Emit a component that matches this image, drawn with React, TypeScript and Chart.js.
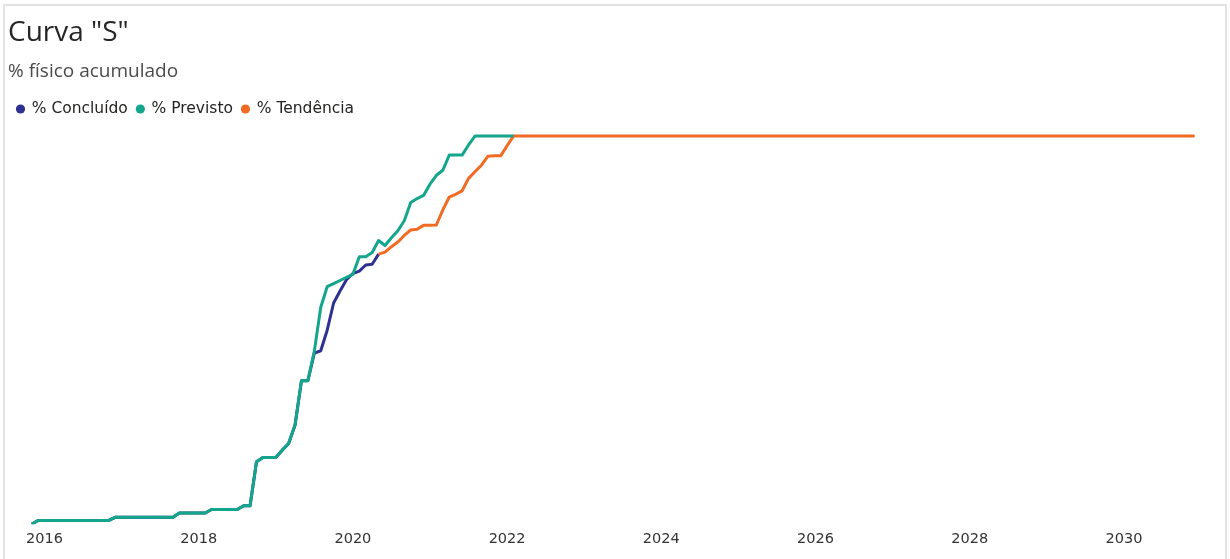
import React, { useEffect, useRef } from "react";
import { Chart, registerables } from "chart.js";

Chart.register(...registerables);

const TITLE = 'Curva "S"';
const SUBTITLE = "% físico acumulado";
const seriesNames = ["% Concluído", "% Previsto", "% Tendência"];
const seriesColors = ["#2E3192", "#13A68C", "#F26B23"];
const tickYears = [2016, 2018, 2020, 2022, 2024, 2026, 2028, 2030];

// [month, % accumulated]
const concluido: [string, number][] = [
  ["2015-11", 0], ["2015-12", 1.0], ["2016-11", 1.0], ["2016-12", 1.8],
  ["2017-09", 1.8], ["2017-10", 2.9], ["2018-02", 2.9], ["2018-03", 3.8],
  ["2018-07", 3.8], ["2018-08", 4.8], ["2018-09", 4.8], ["2018-10", 16.1],
  ["2018-11", 17.2], ["2018-12", 17.2], ["2019-01", 17.2], ["2019-02", 19.1],
  ["2019-03", 20.8], ["2019-04", 25.6], ["2019-05", 37.0], ["2019-06", 37.0],
  ["2019-07", 44.1], ["2019-08", 44.7], ["2019-09", 50.0], ["2019-10", 57.0],
  ["2019-11", 60.1], ["2019-12", 63.0], ["2020-01", 64.6], ["2020-02", 65.2],
  ["2020-03", 66.8], ["2020-04", 67.0], ["2020-05", 69.6],
];

const previsto: [string, number][] = [
  ["2015-11", 0], ["2015-12", 1.0], ["2016-11", 1.0], ["2016-12", 1.8],
  ["2017-09", 1.8], ["2017-10", 2.9], ["2018-02", 2.9], ["2018-03", 3.8],
  ["2018-07", 3.8], ["2018-08", 4.8], ["2018-09", 4.8], ["2018-10", 16.1],
  ["2018-11", 17.2], ["2018-12", 17.2], ["2019-01", 17.2], ["2019-02", 19.1],
  ["2019-03", 20.8], ["2019-04", 25.6], ["2019-05", 37.0], ["2019-06", 37.0],
  ["2019-07", 44.6], ["2019-08", 55.9], ["2019-09", 61.2], ["2019-10", 62.0],
  ["2019-11", 62.8], ["2019-12", 63.6], ["2020-01", 64.4], ["2020-02", 68.9],
  ["2020-03", 68.9], ["2020-04", 70.0], ["2020-05", 73.1], ["2020-06", 71.8],
  ["2020-07", 73.8], ["2020-08", 75.6], ["2020-09", 78.2], ["2020-10", 82.9],
  ["2020-11", 83.9], ["2020-12", 84.7], ["2021-01", 87.6], ["2021-02", 89.9],
  ["2021-03", 91.2], ["2021-04", 95.1], ["2021-05", 95.1], ["2021-06", 95.1],
  ["2021-07", 97.7], ["2021-08", 100], ["2021-09", 100], ["2021-10", 100],
  ["2021-11", 100], ["2021-12", 100], ["2022-01", 100], ["2022-02", 100],
];

const tendencia: [string, number][] = [
  ["2020-05", 69.6], ["2020-06", 70.1], ["2020-07", 71.5], ["2020-08", 72.7],
  ["2020-09", 74.4], ["2020-10", 75.8], ["2020-11", 76.0], ["2020-12", 77.0],
  ["2021-01", 77.0], ["2021-02", 77.1], ["2021-03", 81.0], ["2021-04", 84.3],
  ["2021-05", 85.0], ["2021-06", 85.9], ["2021-07", 89.1], ["2021-08", 90.8],
  ["2021-09", 92.5], ["2021-10", 94.8], ["2021-11", 94.9], ["2021-12", 94.9],
  ["2022-01", 97.5], ["2022-02", 100], ["2030-12", 100],
];

const X_MIN = 2015.527;
const X_MAX = 2031.272;
const Y_MAX = 102.4;

const toYear = (m: string) => {
  const [y, mo] = m.split("-").map(Number);
  return y + (mo - 1) / 12;
};
const toPoints = (s: [string, number][]) => s.map(([m, v]) => ({ x: toYear(m), y: v }));

export default function App() {
  const ref = useRef<HTMLCanvasElement>(null);

  useEffect(() => {
    document.body.style.margin = "0";
    document.body.style.overflow = "hidden";
    if (!ref.current) return;
    const series = [concluido, previsto, tendencia];
    const orders = [1, 0, 0];
    const chart = new Chart(ref.current, {
      type: "line",
      data: {
        datasets: series.map((s, i) => ({
          label: seriesNames[i],
          data: toPoints(s),
          borderColor: seriesColors[i],
          backgroundColor: seriesColors[i],
          borderWidth: 3,
          pointRadius: 0,
          tension: 0,
          borderJoinStyle: "round" as const,
          order: orders[i],
        })),
      },
      options: {
        animation: false,
        responsive: true,
        maintainAspectRatio: false,
        layout: { padding: { top: 6, left: 8, right: 8, bottom: 5.3 } },
        plugins: {
          title: {
            display: true,
            text: TITLE,
            align: "start",
            color: "#262626",
            font: { family: "'Open Sans'", size: 28, weight: "normal" },
            padding: { top: 10, bottom: 0 },
          },
          subtitle: {
            display: true,
            text: SUBTITLE,
            align: "start",
            color: "#4a4a4a",
            font: { family: "'Open Sans'", size: 19, weight: "normal" },
            padding: { top: 11, bottom: 8.85 },
          },
          legend: {
            display: true,
            position: "top",
            align: "start",
            labels: {
              usePointStyle: true,
              pointStyle: "circle",
              boxWidth: 7,
              boxHeight: 6.5,
              padding: 9,
              color: "#252423",
              font: { family: "'DejaVu Sans'", size: 15.5 },
              generateLabels: (c: any) =>
                Chart.defaults.plugins.legend.labels
                  .generateLabels(c)
                  .map((l: any) => ({ ...l, lineWidth: 0 }))
                  .sort((a: any, b: any) => a.datasetIndex - b.datasetIndex),
            },
          },
          tooltip: { enabled: false },
        },
        scales: {
          x: {
            type: "linear",
            min: X_MIN,
            max: X_MAX,
            grid: { display: false, drawTicks: false },
            border: { display: false },
            afterBuildTicks: (s: any) => {
              s.ticks = tickYears.map((v) => ({ value: v }));
            },
            ticks: {
              padding: 6,
              color: "#333333",
              maxRotation: 0,
              autoSkip: false,
              font: { family: "'DejaVu Sans'", size: 14.5 },
              callback: (v: any) => String(v),
            },
          },
          y: { display: false, min: 0, max: Y_MAX },
        },
      },
    });
    return () => chart.destroy();
  }, []);

  return (
    <div style={{ position: "relative", width: 1230, height: 559, overflow: "hidden", background: "#fff" }}>
      <div
        style={{
          position: "absolute",
          left: 3,
          top: 4,
          width: 1220,
          height: 600,
          border: "2px solid #e2e2e2",
          pointerEvents: "none",
        }}
      />
      <div style={{ position: "absolute", left: 0, top: 0, width: 1230, height: 559 }}>
        <canvas ref={ref} />
      </div>
    </div>
  );
}
